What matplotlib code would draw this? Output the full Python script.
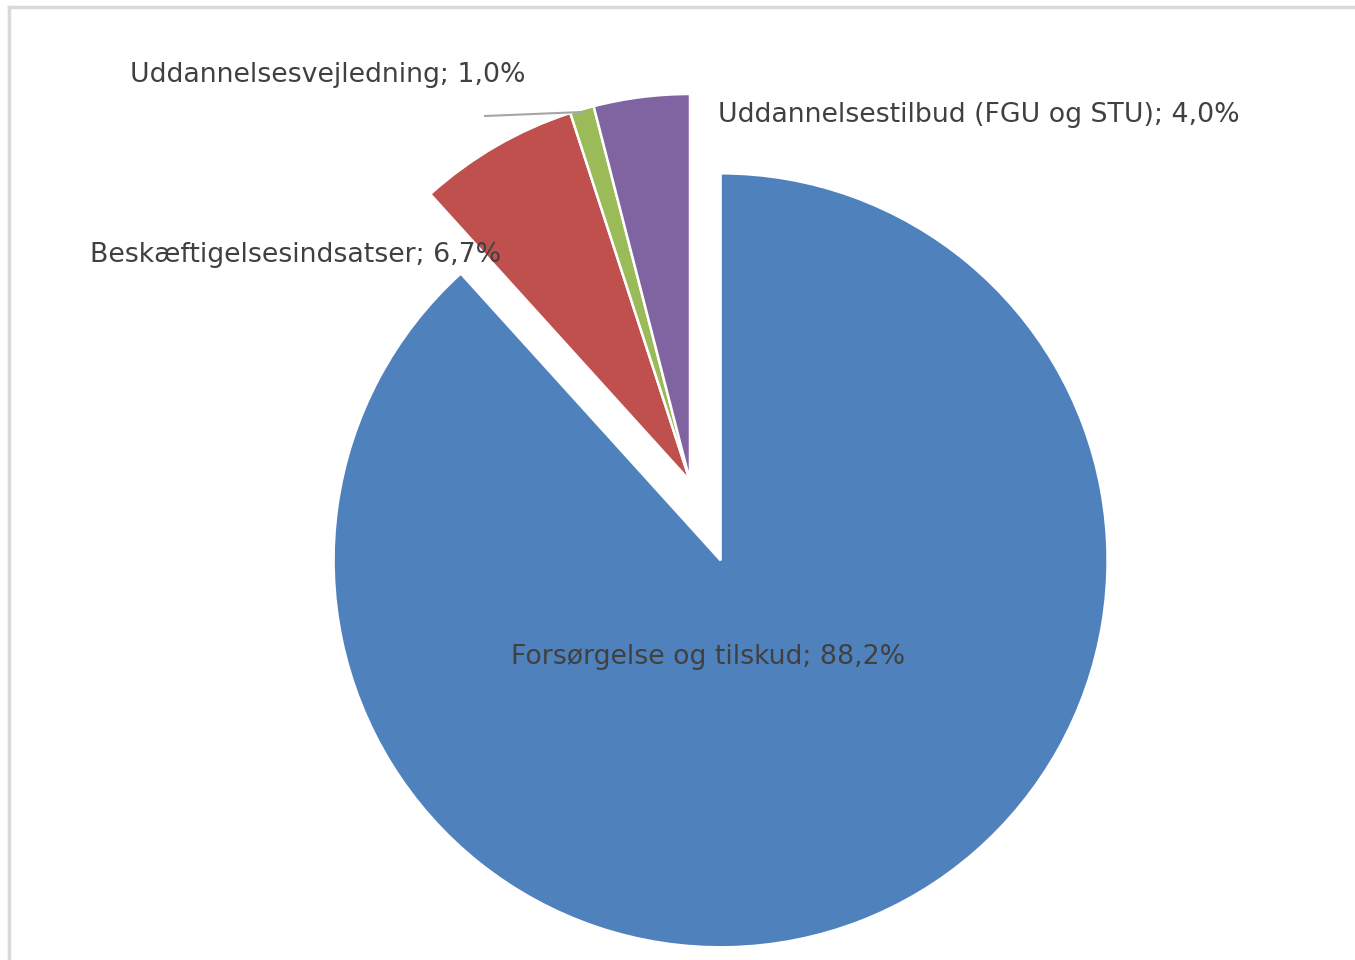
import matplotlib.pyplot as plt

# data
names = ["Forsørgelse og tilskud", "Beskæftigelsesindsatser",
         "Uddannelsesvejledning", "Uddannelsestilbud (FGU og STU)"]
shares = [88.2, 6.7, 1.0, 4.0]
colors = ["#4f81bd", "#c0504d", "#9bbb59", "#8064a2"]

W, H = 1355, 960
fig = plt.figure(figsize=(W / 100, H / 100), dpi=100)
ax = fig.add_axes([0, 0, 1, 1])

# pie drawn in pixel units, only the big slice pulled out
radius = 387
center = (690, H - 481)
ax.pie(shares, colors=colors, startangle=90, counterclock=False,
       radius=radius, center=center, explode=[85, 0, 0, 0],
       wedgeprops=dict(edgecolor="white", linewidth=1.8), frame=True)
ax.set_xlim(0, W)
ax.set_ylim(0, H)
ax.set_aspect("equal")
ax.axis("off")

def lab(i):
    return "%s; %s%%" % (names[i], ("%.1f" % shares[i]).replace(".", ","))

txt = dict(fontsize=19.3, color="#404040", va="center", family="DejaVu Sans")
ax.text(708, H - 657, lab(0), ha="center", **txt)
ax.text(90, H - 255, lab(1), ha="left", **txt)
ax.text(130, H - 75, lab(2), ha="left", **txt)
ax.text(718, H - 115, lab(3), ha="left", **txt)

# leader line for the thin slice
ax.plot([485, 582], [H - 116, H - 112], color="#a6a6a6", lw=1.5)

# chart border (only top and left visible)
ax.plot([9, W], [H - 7, H - 7], color="#d9d9d9", lw=2.5, clip_on=False)
ax.plot([9, 9], [H - 7, 0], color="#d9d9d9", lw=2.5, clip_on=False)

fig.savefig("out.png", dpi=100)
